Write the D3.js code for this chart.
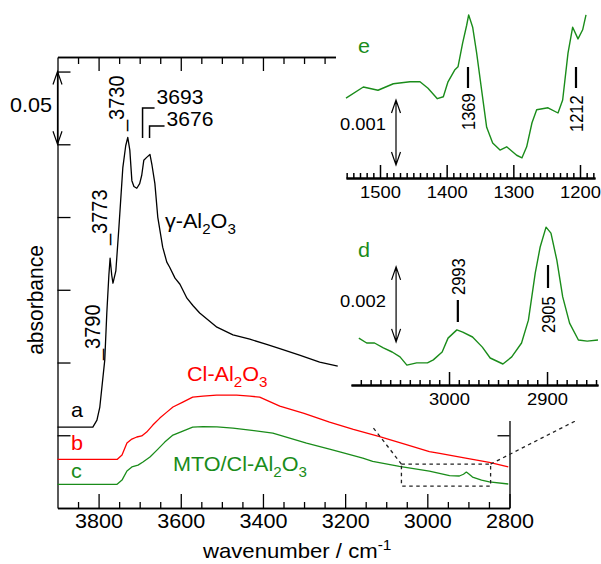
<!DOCTYPE html>
<html>
<head>
<meta charset="utf-8">
<script src="https://cdn.jsdelivr.net/npm/d3@7"></script>
<style>
  body { margin: 0; background: #fff; }
  svg { display: block; font-family: "Liberation Sans", Arial, Helvetica, sans-serif; }
</style>
</head>
<body>
<div id="chart"></div>
<script>
// ---- data ----
// spectrum a : gamma-Al2O3
const waveA = [3900, 3814, 3804, 3797, 3785, 3780, 3775, 3772, 3768, 3765, 3758, 3751, 3741, 3734, 3729,
  3724, 3719, 3714, 3707, 3700, 3695, 3690, 3683, 3675, 3670, 3663, 3656, 3644, 3634, 3627, 3614, 3602,
  3585, 3570, 3554, 3512, 3473, 3432, 3391, 3359, 3311, 3262, 3218];
const absA = [0.0556, 0.0556, 0.0604, 0.0694, 0.1016, 0.134, 0.160, 0.1717, 0.160, 0.1545, 0.163, 0.191,
  0.234, 0.249, 0.2548, 0.246, 0.225, 0.221, 0.2198, 0.223, 0.2287, 0.239, 0.241, 0.243, 0.2356, 0.223,
  0.200, 0.1793, 0.169, 0.1655, 0.158, 0.1538, 0.1442, 0.139, 0.134, 0.1243, 0.1190, 0.1160, 0.1125,
  0.1095, 0.1051, 0.1003, 0.0975];

// spectrum b : Cl-Al2O3
const waveB = [3900, 3755, 3743, 3731, 3719, 3707, 3695, 3683, 3668, 3651, 3634, 3619, 3595, 3571, 3546,
  3513, 3464, 3432, 3408, 3359, 3300, 3238, 3180, 3116, 3051, 2995, 2970, 2900, 2849, 2803];
const absB = [0.0334, 0.0334, 0.0364, 0.0446, 0.0474, 0.0488, 0.0495, 0.0522, 0.0570, 0.0618, 0.0659,
  0.0694, 0.0728, 0.0762, 0.0769, 0.0776, 0.0776, 0.0769, 0.0762, 0.0700, 0.0650, 0.0590, 0.0540, 0.0490,
  0.0435, 0.0388, 0.0375, 0.0340, 0.0313, 0.0282];

// spectrum c : MTO/Cl-Al2O3
const waveC = [3900, 3755, 3743, 3731, 3719, 3704, 3692, 3675, 3658, 3639, 3619, 3595, 3571, 3546, 3512,
  3473, 3432, 3376, 3294, 3238, 3213, 3157, 3133, 3068, 2995, 2946, 2922, 2912, 2905, 2898, 2890, 2868,
  2849, 2803];
const absC = [0.0163, 0.0163, 0.0192, 0.0254, 0.0282, 0.0295, 0.0316, 0.0350, 0.0398, 0.0453, 0.0501,
  0.0529, 0.0556, 0.0560, 0.0558, 0.0549, 0.0536, 0.0515, 0.0446, 0.0405, 0.0385, 0.0343, 0.0320, 0.0286,
  0.0254, 0.0222, 0.0220, 0.0232, 0.0247, 0.0232, 0.0213, 0.0192, 0.0179, 0.0165];

// inset e : 1550-1180 cm-1 (units of 0.001 absorbance, arbitrary offset)
const waveE = [1551, 1525, 1503, 1480, 1455, 1440, 1428, 1414, 1405, 1398, 1388, 1383, 1376, 1370, 1367,
  1361, 1355, 1347, 1340, 1331, 1320, 1310, 1295, 1287, 1280, 1272, 1265, 1248, 1233, 1226, 1218, 1211,
  1203, 1196, 1191];
const valE = [1.23, 1.40, 1.35, 1.45, 1.48, 1.48, 1.38, 1.22, 1.25, 1.48, 1.66, 1.71, 2.08, 2.35, 2.51,
  2.32, 1.92, 1.31, 0.78, 0.54, 0.43, 0.48, 0.35, 0.31, 0.48, 0.85, 1.05, 1.08, 1.00, 1.20, 1.92, 2.32,
  2.14, 2.28, 2.51];

// inset d : 3100-2850 cm-1 (units of 0.001 absorbance, arbitrary offset)
const waveD = [3092, 3084, 3076, 3067, 3058, 3050, 3043, 3033, 3022, 3016, 3007, 3001, 2992, 2986, 2976,
  2966, 2958, 2945, 2936, 2926, 2919, 2912, 2907, 2901, 2896, 2890, 2884, 2877, 2868, 2859, 2848];
const valD = [1.25, 1.12, 1.12, 0.99, 0.88, 0.75, 0.53, 0.59, 0.59, 0.67, 0.88, 1.25, 1.47, 1.41, 1.28,
  1.01, 0.72, 0.56, 0.75, 1.12, 1.73, 2.99, 3.68, 4.21, 4.05, 3.33, 2.35, 1.65, 1.20, 1.17, 1.20];

// tick values
const mainMajor = [3800, 3600, 3400, 3200, 3000, 2800];
const mainMinor = [3850, 3750, 3700, 3650, 3550, 3500, 3450, 3350, 3300, 3250, 3150, 3100, 3050, 2950, 2900, 2850];
const absTicks = [0.05, 0.10, 0.15, 0.20, 0.25, 0.30];
const eMajor = [1500, 1400, 1300, 1200];
const dMajor = [3000, 2900];

// band labels
const mainBands = ["_3790", "_3773", "_3730"];
const mainBandPos = [3790, 3773, 3730];
const eBands = ["1369", "1212"];
const eBandPos = [1368, 1206];
const dBands = ["2993", "2905"];
const dBandPos = [2991, 2899];

// ---- drawing ----
const W = 601, H = 564;
const SX = 1.08; // glyphs in the figure are slightly wide
const GREEN = "#1a8c1a", RED = "#ff0000";

const svg = d3.select("#chart").append("svg").attr("width", W).attr("height", H);

const x = d3.scaleLinear().domain([3900, 2800]).range([57.5, 509.5]);
const y = d3.scaleLinear().domain([0, 0.31]).range([508, 57]);

// parse "Al_2O_3" / "cm^{-1}" into tspans
function parse(s) {
  const out = [];
  const re = /([_^])\{([^}]*)\}|([_^])(.)|([^_^]+)/g;
  let m;
  while ((m = re.exec(s))) {
    if (m[1]) out.push([m[2], m[1] === "_" ? "sub" : "sup"]);
    else if (m[3]) out.push([m[4], m[3] === "_" ? "sub" : "sup"]);
    else out.push([m[5], ""]);
  }
  return out;
}

function label(g, x0, y0, str, size, opt = {}) {
  const tf = opt.rotate
    ? `translate(${x0},${y0}) rotate(${opt.rotate}) scale(1,${SX})`
    : `translate(${x0},${y0}) scale(${SX},1)`;
  const t = g.append("text")
    .attr("transform", tf)
    .attr("font-size", size)
    .attr("fill", opt.fill || "#000")
    .attr("text-anchor", opt.anchor || "start");
  if (opt.raw) { t.text(str); return t; }
  let shift = 0;
  parse(str).forEach(([s, kind]) => {
    const target = kind === "sub" ? size * 0.3 : kind === "sup" ? -size * 0.4 : 0;
    t.append("tspan")
      .attr("dy", target - shift)
      .attr("font-size", kind ? size * 0.7 : size)
      .text(s);
    shift = target;
  });
  return t;
}

function dblArrow(g, xp, yTop, yBot) {
  const p = d3.path();
  p.moveTo(xp, yTop); p.lineTo(xp, yBot);
  p.moveTo(xp - 4.5, yTop + 13); p.lineTo(xp, yTop); p.lineTo(xp + 4.5, yTop + 13);
  p.moveTo(xp - 4.5, yBot - 13); p.lineTo(xp, yBot); p.lineTo(xp + 4.5, yBot - 13);
  g.append("path").attr("d", p.toString())
    .attr("fill", "none").attr("stroke", "#000").attr("stroke-width", 1.2);
}

function styleAxis(g, size, width) {
  g.selectAll("path, line").attr("stroke", "#000").attr("stroke-width", width);
  g.selectAll("text")
    .attr("font-size", size)
    .attr("font-family", "'Liberation Sans', Arial, sans-serif")
    .attr("fill", "#000")
    .attr("transform", `scale(${SX},1)`);
}

// main frame + ticks
const main = svg.append("g");
const fmt = d3.format("d");

main.append("g").attr("transform", `translate(0,${y(0)})`)
  .call(d3.axisBottom(x).tickValues(mainMinor).tickSizeInner(-6).tickSizeOuter(0).tickFormat(""))
  .call(g => styleAxis(g, 20, 1.3));
main.append("g").attr("transform", `translate(0,${y(0)})`)
  .call(d3.axisBottom(x).tickValues(mainMajor).tickSizeInner(-14).tickSizeOuter(0).tickPadding(6).tickFormat(fmt))
  .call(g => styleAxis(g, 20, 1.3));
main.append("g").attr("transform", `translate(0,${y(0.31)})`)
  .call(d3.axisTop(x).tickValues(mainMinor).tickSizeInner(-7).tickSizeOuter(0).tickFormat(""))
  .call(g => styleAxis(g, 20, 1.3));
main.append("g").attr("transform", `translate(0,${y(0.31)})`)
  .call(d3.axisTop(x).tickValues(mainMajor).tickSizeInner(-14).tickSizeOuter(0).tickFormat(""))
  .call(g => styleAxis(g, 20, 1.3));
main.append("g").attr("transform", `translate(${x(3900)},0)`)
  .call(d3.axisLeft(y).tickValues(absTicks).tickSizeInner(-13).tickSizeOuter(0).tickFormat(""))
  .call(g => styleAxis(g, 20, 1.3));
main.append("g").attr("transform", `translate(${x(2800)},0)`)
  .call(d3.axisRight(y).tickValues(absTicks).tickSizeInner(-12).tickSizeOuter(0).tickFormat(""))
  .call(g => styleAxis(g, 20, 1.3));

// spectra
const line = d3.line().x(d => x(d[0])).y(d => y(d[1]));
const series = [
  { w: waveA, v: absA, color: "#000" },
  { w: waveB, v: absB, color: RED },
  { w: waveC, v: absC, color: GREEN },
];
main.selectAll(".spec").data(series).join("path")
  .attr("class", "spec")
  .attr("d", s => line(d3.zip(s.w, s.v)))
  .attr("fill", "none")
  .attr("stroke", s => s.color)
  .attr("stroke-width", 1.3)
  .attr("stroke-linejoin", "round");

// zoom box and connectors (dashed)
const dash = main.append("g").attr("fill", "none").attr("stroke", "#222")
  .attr("stroke-width", 1.3).attr("stroke-dasharray", "3.5,3.5");
dash.append("rect")
  .attr("x", x(3063)).attr("y", y(0.0302))
  .attr("width", x(2846) - x(3063)).attr("height", y(0.0151) - y(0.0302));
dash.append("line")
  .attr("x1", x(3063)).attr("y1", y(0.0302)).attr("x2", x(3133)).attr("y2", y(0.0556));
dash.append("line")
  .attr("x1", x(2846)).attr("y1", y(0.0302)).attr("x2", x(2640)).attr("y2", y(0.0598));

// main annotations
label(main, 52, 112, "0.05", 20, { anchor: "end" });
dblArrow(main, x(3900), y(0.30), y(0.25));
const startY = [360, 245, 131];
mainBands.forEach((b, i) => label(main, x(mainBandPos[i]) - 3, startY[i], b, 20, { rotate: -90, raw: true }));

const br = main.append("g").attr("fill", "none").attr("stroke", "#000").attr("stroke-width", 1.5);
br.append("path").attr("d", `M${x(3693)},138V108H${x(3693) + 12}`);
br.append("path").attr("d", `M${x(3676)},138V126H${x(3676) + 15}`);
label(main, x(3693) + 14, 104, "3693", 19.5);
label(main, x(3676) + 17, 126, "3676", 19.5);

label(main, 165, 228, "γ-Al_2O_3", 20);
label(main, 187, 381, "Cl-Al_2O_3", 20, { fill: RED });
label(main, 173, 471, "MTO/Cl-Al_2O_3", 20, { fill: GREEN });
label(main, 71, 417, "a", 20);
label(main, 71, 450, "b", 20, { fill: RED });
label(main, 71, 478, "c", 20, { fill: GREEN });
label(main, 43, 300, "absorbance", 21, { rotate: -90, anchor: "middle" });
label(main, 203, 558, "wavenumber / cm^{-1}", 20.5);

// ---- insets (white background over the main frame) ----
svg.append("rect").attr("x", 336).attr("y", 0).attr("width", W - 336).attr("height", 200).attr("fill", "#fff");
svg.append("rect").attr("x", 340).attr("y", 200).attr("width", W - 340).attr("height", 221).attr("fill", "#fff");

function inset(cfg) {
  const g = svg.append("g");
  const xs = d3.scaleLinear().domain(cfg.xDomain).range(cfg.xRange);
  const ys = d3.scaleLinear().domain([0, 1]).range([cfg.base, cfg.base - cfg.unit]);
  const minor = d3.range(cfg.minorFrom, cfg.minorTo - 1, -10).filter(v => !cfg.major.includes(v));
  g.append("g").attr("transform", `translate(0,${cfg.base})`)
    .call(d3.axisBottom(xs).tickValues(minor).tickSizeInner(-5).tickSizeOuter(0).tickFormat(""))
    .call(a => styleAxis(a, 17, 1.5))
    .call(a => a.select(".domain").attr("stroke-width", 2));
  g.append("g").attr("transform", `translate(0,${cfg.base})`)
    .call(d3.axisBottom(xs).tickValues(cfg.major).tickSizeInner(-13).tickSizeOuter(0).tickPadding(8).tickFormat(fmt))
    .call(a => styleAxis(a, 17, 1.5))
    .call(a => a.select(".domain").attr("stroke-width", 2));
  const ln = d3.line().x(d => xs(d[0])).y(d => ys(d[1]));
  g.append("path").attr("d", ln(d3.zip(cfg.w, cfg.v)))
    .attr("fill", "none").attr("stroke", GREEN).attr("stroke-width", 1.4).attr("stroke-linejoin", "round");
  label(g, 358, cfg.letterY, cfg.letter, 20, { fill: GREEN });
  label(g, 386, cfg.scaleY, cfg.scaleText, 17, { anchor: "end" });
  dblArrow(g, xs(cfg.arrowAt), ys(cfg.arrow[1]), ys(cfg.arrow[0]));
  cfg.bands.forEach((b, i) => {
    const bx = xs(cfg.bandPos[i]);
    const o = cfg.bandLayout[i];
    g.append("line").attr("x1", bx).attr("x2", bx).attr("y1", o.bar[0]).attr("y2", o.bar[1])
      .attr("stroke", "#000").attr("stroke-width", 2.2);
    label(g, bx + 7, o.text, b, 16.5, { rotate: -90 });
  });
  return g;
}

inset({
  xDomain: [1551, 1177.5], xRange: [346, 595], base: 178, unit: 65,
  major: eMajor, minorFrom: 1550, minorTo: 1180,
  w: waveE, v: valE, letter: "e", letterY: 53,
  scaleText: "0.001", scaleY: 130, arrowAt: 1476, arrow: [0.2, 1.2],
  bands: eBands, bandPos: eBandPos,
  bandLayout: [{ bar: [67, 88], text: 130 }, { bar: [67, 88], text: 132 }],
});

inset({
  xDomain: [3100, 2848], xRange: [351, 598], base: 385, unit: 37.5,
  major: dMajor, minorFrom: 3090, minorTo: 2850,
  w: waveD, v: valD, letter: "d", letterY: 257,
  scaleText: "0.002", scaleY: 307, arrowAt: 3054, arrow: [1.15, 3.15],
  bands: dBands, bandPos: dBandPos,
  bandLayout: [{ bar: [300, 322], text: 295 }, { bar: [265, 288], text: 333 }],
});
</script>
</body>
</html>
